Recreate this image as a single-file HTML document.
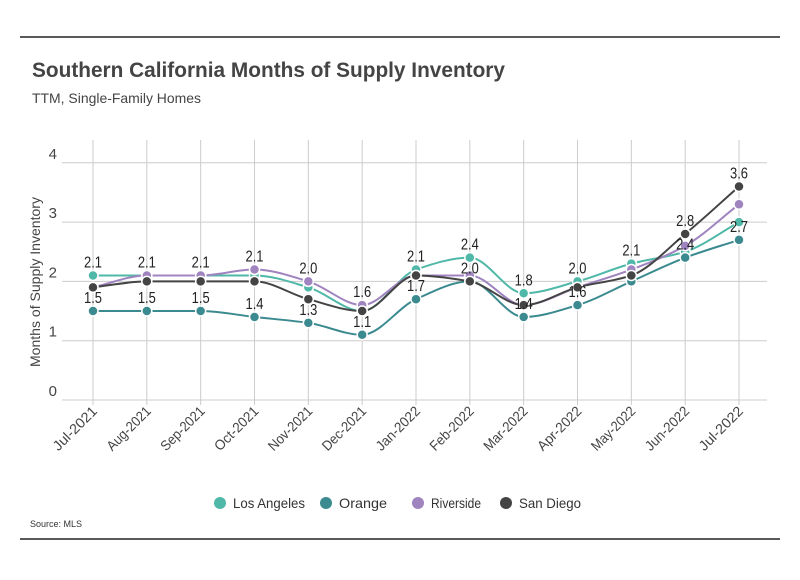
<!DOCTYPE html>
<html><head><meta charset="utf-8"><style>
body{margin:0;background:#fff;font-family:"Liberation Sans",sans-serif}
svg text{font-family:"Liberation Sans",sans-serif}
</style></head><body>
<svg id="c" width="800" height="575">
<rect x="0" y="0" width="800" height="575" fill="#fff"/>
<line x1="20" y1="37" x2="780" y2="37" stroke="#222" stroke-width="1.5"/>
<line x1="20" y1="539" x2="780" y2="539" stroke="#222" stroke-width="1.5"/>
<text x="32" y="77" font-size="21" font-weight="bold" fill="#444" textLength="473" lengthAdjust="spacingAndGlyphs">Southern California Months of Supply Inventory</text>
<text x="32" y="103" font-size="14" fill="#444" textLength="169" lengthAdjust="spacingAndGlyphs">TTM, Single-Family Homes</text>
<text transform="translate(40,282) rotate(-90)" text-anchor="middle" font-size="14" fill="#444" textLength="170" lengthAdjust="spacingAndGlyphs">Months of Supply Inventory</text>
<text x="30" y="527" font-size="9" fill="#333">Source:  MLS</text>
<g id="grid"></g><g id="lines"></g><g id="pts"></g><g id="lbls"></g><g id="legend"></g>
</svg>
<script>
const categories=["Jul-2021","Aug-2021","Sep-2021","Oct-2021","Nov-2021","Dec-2021","Jan-2022","Feb-2022","Mar-2022","Apr-2022","May-2022","Jun-2022","Jul-2022"];
const seriesNames=["Los Angeles","Orange","Riverside","San Diego"];
const seriesColors=["#4fb8a8","#3a8a8f","#a084c0","#444444"];
const losAngeles=[2.1,2.1,2.1,2.1,1.9,1.5,2.2,2.4,1.8,2.0,2.3,2.5,3.0];
const orange=[1.5,1.5,1.5,1.4,1.3,1.1,1.7,2.0,1.4,1.6,2.0,2.4,2.7];
const riverside=[1.9,2.1,2.1,2.2,2.0,1.6,2.1,2.1,1.6,1.9,2.2,2.6,3.3];
const sanDiego=[1.9,2.0,2.0,2.0,1.7,1.5,2.1,2.0,1.6,1.9,2.1,2.8,3.6];
const yTicks=[0,1,2,3,4];
const topLabelSeries=[0,2,2,2,2,2,0,0,0,0,0,3,3];
const topLabelText=["2.1","2.1","2.1","2.1","2.0","1.6","2.1","2.4","1.8","2.0","2.1","2.8","3.6"];
const bottomLabelText=["1.5","1.5","1.5","1.4","1.3","1.1","1.7","2.0","1.4","1.6","","2.4","2.7"];
const series=[losAngeles,orange,riverside,sanDiego];
const NS="http://www.w3.org/2000/svg";
const X=i=>93+i*(739-93)/(categories.length-1);
const Y=v=>400-v*59.3;
function mk(t,a,p){const e=document.createElementNS(NS,t);for(const k in a)e.setAttribute(k,a[k]);p.appendChild(e);return e;}
const grid=document.getElementById('grid');
yTicks.forEach(t=>{const l=mk('line',{x1:62,x2:767,y1:Y(t),y2:Y(t),stroke:'#ccc'},grid);


const tx=mk('text',{x:57,y:Y(t)-4,'font-size':15,fill:'#444','text-anchor':'end'},grid);tx.textContent=t;

});
categories.forEach((c,i)=>{const l=mk('line',{x1:X(i),x2:X(i),y1:140,y2:405,stroke:'#ccc'},grid);


const tx=mk('text',{transform:`translate(${X(i)+5},412) rotate(-45)`,'font-size':14,fill:'#444','text-anchor':'end',textLength:56,lengthAdjust:'spacingAndGlyphs'},grid);tx.textContent=c;

});
function monotone(xs,ys){const n=xs.length,d=[],m=[];for(let i=0;i<n-1;i++)d.push((ys[i+1]-ys[i])/(xs[i+1]-xs[i]));
m[0]=d[0];m[n-1]=d[n-2];for(let i=1;i<n-1;i++){m[i]=(d[i-1]*d[i]>0)?2/(1/d[i-1]+1/d[i]):0;}
let p=`M${xs[0]},${ys[0]}`;for(let i=0;i<n-1;i++){const h=(xs[i+1]-xs[i])/3;p+=`C${xs[i]+h},${ys[i]+m[i]*h} ${xs[i+1]-h},${ys[i+1]-m[i+1]*h} ${xs[i+1]},${ys[i+1]}`;}return p;}
const lines=document.getElementById('lines'),pts=document.getElementById('pts'),lbls=document.getElementById('lbls');
series.forEach((s,k)=>{const xs=s.map((v,i)=>X(i)),ys=s.map(v=>Y(v));
const p=mk('path',{d:monotone(xs,ys),fill:'none',stroke:seriesColors[k],'stroke-width':2},lines);


s.forEach((v,i)=>{const c=mk('circle',{cx:X(i),cy:Y(v),r:5,fill:seriesColors[k],stroke:'#fff','stroke-width':1.5},pts);

});});
categories.forEach((c,i)=>{const t=mk('text',{x:X(i),y:Y(series[topLabelSeries[i]][i])-8,'font-size':16,fill:'#222','text-anchor':'middle',textLength:18,lengthAdjust:'spacingAndGlyphs'},lbls);t.textContent=topLabelText[i];


if(bottomLabelText[i]){const b=mk('text',{x:X(i),y:Y(orange[i])-8,'font-size':16,fill:'#222','text-anchor':'middle',textLength:18,lengthAdjust:'spacingAndGlyphs'},lbls);b.textContent=bottomLabelText[i];

}});
const lg=document.getElementById('legend');const lx=[220,326,418,506];const lw=[72,48,50,62];
seriesNames.forEach((n,k)=>{const g=mk('g',{},lg);


mk('circle',{cx:lx[k],cy:503,r:6,fill:seriesColors[k]},g);
const t=mk('text',{x:lx[k]+13,y:508,'font-size':14,fill:'#333',textLength:lw[k],lengthAdjust:'spacingAndGlyphs'},g);t.textContent=n;});
</script>
</body></html>
